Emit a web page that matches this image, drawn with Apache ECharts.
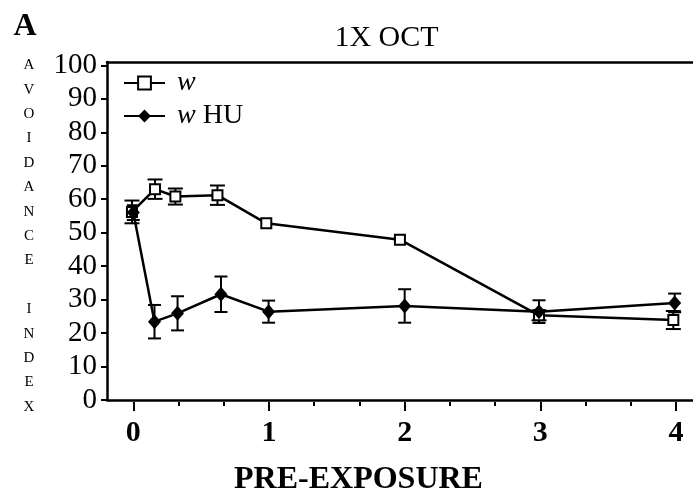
<!DOCTYPE html>
<html>
<head>
<meta charset="utf-8">
<script src="https://cdn.jsdelivr.net/npm/echarts@6/dist/echarts.min.js"></script>
<style>
html,body{margin:0;padding:0;background:#fff;}
#chart{width:693px;height:493px;}
</style>
</head>
<body>
<div id="chart"></div>
<script>
// ---- data ----
const wX   = [-0.01, 0.16, 0.31, 0.62, 0.98, 1.965, 2.99, 3.98];
const wY   = [56.2, 63.0, 60.8, 61.2, 52.8, 47.9, 25.3, 23.9];
const wErr = [3.4, 2.9, 2.4, 2.9, 0, 0, 1.5, 2.7];
const huX   = [0, 0.156, 0.326, 0.646, 0.997, 2.0, 2.99, 3.99];
const huY   = [56.0, 23.4, 25.9, 31.6, 26.4, 28.1, 26.4, 29.0];
const huErr = [2.2, 5.0, 5.1, 5.3, 3.3, 5.0, 3.4, 2.8];
const xMajorTicks = [0, 1, 2, 3, 4];
const xMinorTicks = [1/3, 2/3, 4/3, 5/3, 7/3, 8/3, 10/3, 11/3];
const yTicks = [0, 10, 20, 30, 40, 50, 60, 70, 80, 90, 100];
const seriesNames = ['w', 'w HU'];

const SERIF = "'Liberation Serif','Times New Roman',serif";
const chart = echarts.init(document.getElementById('chart'), null, {renderer: 'canvas'});

function errRender(capW) {
  return function (params, api) {
    const x = api.value(0), y = api.value(1), e = api.value(2);
    if (!e) return null;
    const t = api.coord([x, y + e]);
    const b = api.coord([x, y - e]);
    const hw = capW / 2;
    const st = {stroke: '#000', lineWidth: 2};
    return {
      type: 'group',
      children: [
        {type: 'line', shape: {x1: t[0], y1: t[1], x2: b[0], y2: b[1]}, style: st},
        {type: 'line', shape: {x1: t[0] - hw, y1: t[1], x2: t[0] + hw, y2: t[1]}, style: st},
        {type: 'line', shape: {x1: b[0] - hw, y1: b[1], x2: b[0] + hw, y2: b[1]}, style: st}
      ]
    };
  };
}

const xMin = -0.194, xMax = 4.125;
const baseX = {type: 'value', min: xMin, max: xMax, gridIndex: 0, splitLine: {show: false}};

chart.setOption({
  animation: false,
  backgroundColor: '#fff',
  grid: {left: 107, right: 0, top: 62, bottom: 93, containLabel: false},
  xAxis: [
    Object.assign({}, baseX, {
      position: 'bottom',
      axisLine: {show: true, onZero: false, lineStyle: {color: '#000', width: 2.5}},
      axisTick: {show: false},
      axisLabel: {show: true, customValues: xMajorTicks, margin: 18, color: '#000',
        fontFamily: SERIF, fontSize: 30, fontWeight: 'bold', formatter: v => String(v)}
    }),
    Object.assign({}, baseX, {
      position: 'bottom', offset: 2,
      axisLine: {show: false, onZero: false},
      axisTick: {show: true, customValues: xMajorTicks, length: 9, lineStyle: {color: '#000', width: 2}},
      axisLabel: {show: false}
    }),
    Object.assign({}, baseX, {
      position: 'bottom', offset: 2,
      axisLine: {show: false, onZero: false},
      axisTick: {show: true, customValues: xMinorTicks, length: 4, lineStyle: {color: '#000', width: 2}},
      axisLabel: {show: false}
    }),
    Object.assign({}, baseX, {
      position: 'top',
      axisLine: {show: true, onZero: false, lineStyle: {color: '#000', width: 2.5}},
      axisTick: {show: false},
      axisLabel: {show: false}
    })
  ],
  yAxis: {
    type: 'value', min: 0, max: 101,
    axisLine: {show: true, onZero: false, lineStyle: {color: '#000', width: 2.5}},
    axisTick: {show: true, customValues: yTicks, length: 6, lineStyle: {color: '#000', width: 2}},
    axisLabel: {show: true, customValues: yTicks, margin: 10, color: '#000',
      fontFamily: SERIF, fontSize: 29, formatter: v => String(v)},
    splitLine: {show: false}
  },
  legend: {
    data: seriesNames,
    orient: 'vertical',
    left: 118, top: 64,
    itemWidth: 41, itemHeight: 16, itemGap: 5,
    formatter: name => name === 'w' ? ' {i|w}' : ' {i|w} HU',
    textStyle: {
      color: '#000', fontFamily: SERIF, fontSize: 28, lineHeight: 28,
      rich: {i: {fontStyle: 'italic', fontFamily: SERIF, fontSize: 28, color: '#000'}}
    }
  },
  graphic: [
    {type: 'text', style: {text: 'A', x: 25, y: 27, font: 'bold 32px ' + SERIF, textAlign: 'center', textVerticalAlign: 'middle', fill: '#000'}},
    {type: 'text', style: {text: '1X OCT', x: 386.5, y: 38, font: '30px ' + SERIF, textAlign: 'center', textVerticalAlign: 'middle', fill: '#000'}},
    {type: 'text', style: {text: 'PRE-EXPOSURE', x: 358.5, y: 480, font: 'bold 32px ' + SERIF, textAlign: 'center', textVerticalAlign: 'middle', fill: '#000'}},
    {type: 'text', style: {text: 'A\nV\nO\nI\nD\nA\nN\nC\nE\n\nI\nN\nD\nE\nX', x: 29, y: 236,
      font: '15px ' + SERIF, lineHeight: 24.4, textAlign: 'center', textVerticalAlign: 'middle', fill: '#000'}}
  ],
  series: [
    {
      name: 'w', type: 'line', xAxisIndex: 0, z: 3,
      data: wX.map((x, i) => [x, wY[i]]),
      symbol: 'rect', symbolSize: 10,
      lineStyle: {color: '#000', width: 2.5},
      itemStyle: {color: '#fff', borderColor: '#000', borderWidth: 2}
    },
    {
      name: 'w HU', type: 'line', xAxisIndex: 0, z: 4,
      data: huX.map((x, i) => [x, huY[i]]),
      symbol: 'diamond', symbolSize: [13, 15],
      lineStyle: {color: '#000', width: 2.5},
      itemStyle: {color: '#000', borderColor: '#000', borderWidth: 0}
    },
    {
      name: 'w err', type: 'custom', xAxisIndex: 0, z: 2,
      renderItem: errRender(15),
      encode: {x: 0, y: 1},
      data: wX.map((x, i) => [x, wY[i], wErr[i]])
    },
    {
      name: 'w HU err', type: 'custom', xAxisIndex: 0, z: 2,
      renderItem: errRender(13),
      encode: {x: 0, y: 1},
      data: huX.map((x, i) => [x, huY[i], huErr[i]])
    }
  ]
});
</script>
</body>
</html>
